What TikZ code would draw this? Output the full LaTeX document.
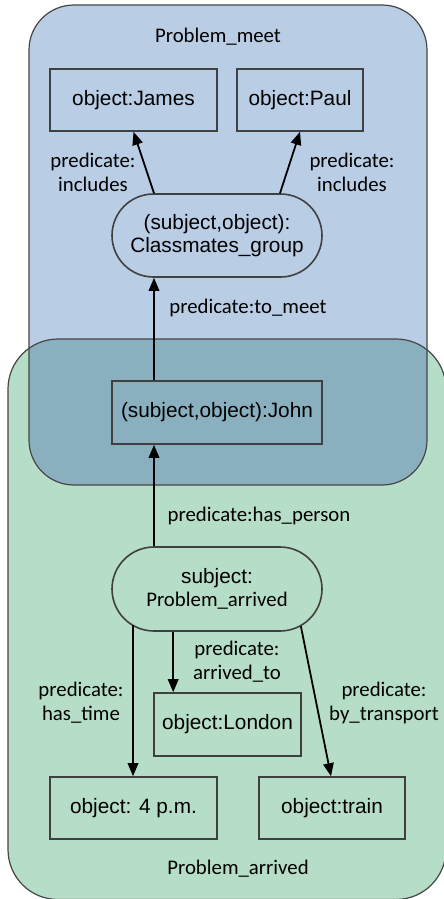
\documentclass[tikz,border=0pt]{standalone}
\usepackage{fontspec}
\setmainfont{Liberation Sans}
\newfontfamily\calib{Carlito}
\usetikzlibrary{shapes.misc,arrows.meta}
\definecolor{blueregion}{RGB}{185,205,229}
\definecolor{greenregion}{RGB}{182,221,199}
\definecolor{overlapregion}{RGB}{138,176,192}
\definecolor{edgegray}{RGB}{70,70,70}
\definecolor{boxgray}{RGB}{64,64,64}
\tikzset{
  objbox/.style={draw=boxgray, line width=1.6pt, rectangle, minimum height=62pt, inner sep=0pt,
    font=\fontsize{20.8}{24}\selectfont},
  subjbox/.style={draw=boxgray, line width=1.6pt, rounded rectangle, minimum width=210pt, minimum height=83pt,
    inner sep=0pt, align=center, font=\fontsize{20.8}{23}\selectfont},
  lbl/.style={font=\calib\fontsize{20.8}{24}\selectfont, align=center, inner sep=0pt},
  arr/.style={line width=1.8pt, -{Triangle[length=13pt,width=10.5pt]}},
  region/.style={draw=edgegray, line width=1.2pt}
}
\begin{document}
\begin{tikzpicture}[x=1pt,y=-1pt]
\useasboundingbox (0,0) rectangle (444,899);
% regions
\fill[greenregion, rounded corners=50pt] (8,339) rectangle (446,899.5);
\fill[blueregion, rounded corners=45pt] (29,5) rectangle (427,485);
\begin{scope}
  \clip[rounded corners=50pt] (8,339) rectangle (446,899.5);
  \fill[overlapregion, rounded corners=45pt] (29,5) rectangle (427,485);
\end{scope}
\draw[region, rounded corners=50pt] (8,339) rectangle (446,899.5);
\draw[region, rounded corners=45pt] (29,5) rectangle (427,485);

\node[lbl] (meetlbl) at (218,37) {Problem\_meet};
\node[lbl] (arrlbl) at (238,869) {Problem\_arrived};

% nodes
\node[objbox, minimum width=167pt] (james) at (133.5,100) {object:James};
\node[objbox, minimum width=126pt] (paul) at (300,100) {object:Paul};
\node[subjbox] (cls) at (217,235.5) {(subject,object):\\Classmates\_group};
\node[objbox, minimum width=210pt, minimum height=63pt] (john) at (217,412.5) {(subject,object):John};
\node[subjbox, minimum height=84pt] (pa) at (217,589) {subject:\\{\calib Problem\_arrived}};
\node[objbox, minimum width=147pt, minimum height=63pt] (london) at (227.5,724.5) {object:London};
\node[objbox, minimum width=167pt] (fourpm) at (133.5,808) {object: 4 p.m.};
\node[objbox, minimum width=146pt] (train) at (332,808) {object:train};

% connectors
\draw[arr] ([xshift=-63pt]cls.north) -- (james.south);
\draw[arr] ([xshift=63pt]cls.north) -- (paul.south);
\draw[arr] ([xshift=-63pt]john.north) -- ([xshift=-63pt]cls.south);
\draw[arr] ([xshift=-63pt]pa.north) -- ([xshift=-63pt]john.south);
\draw[arr] ([xshift=-0.5pt]fourpm.north |- pa.203.5) -- ([xshift=-0.5pt]fourpm.north);
\draw[arr] ([xshift=20pt]london.north west |- pa.south) -- ([xshift=20pt]london.north west);
\draw[arr] (pa.336) -- ([xshift=-1pt]train.north);

% labels
\node[lbl] (l1) at (93,172) {predicate:\\includes};
\node[lbl] (l2) at (352,172) {predicate:\\includes};
\node[lbl] (l3) at (248,308) {predicate:to\_meet};
\node[lbl] (l4) at (259,516) {predicate:has\_person};
\node[lbl] (l5) at (237,662) {predicate:\\arrived\_to};
\node[lbl] (l6) at (81,703) {predicate:\\has\_time};
\node[lbl] (l7) at (384,703) {predicate:\\by\_transport};
\end{tikzpicture}
\end{document}
